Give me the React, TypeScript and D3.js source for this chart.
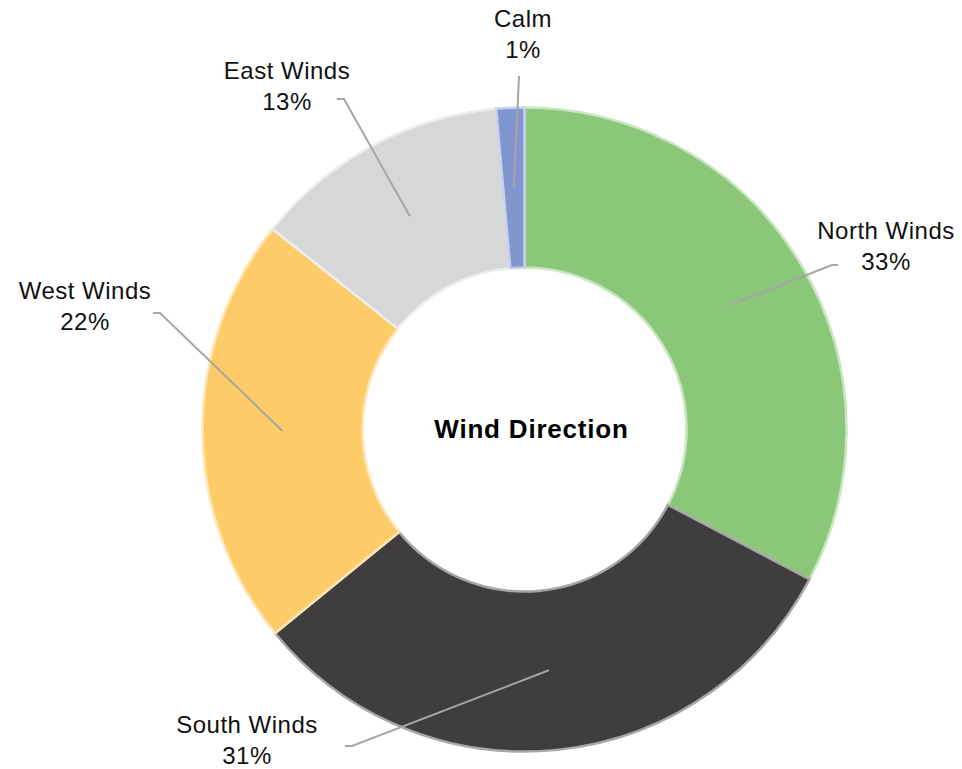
import React from "react";
import * as d3 from "d3";

const categories = ["North Winds", "South Winds", "West Winds", "East Winds", "Calm"];
const values = [32.7, 31.4, 21.6, 12.9, 1.4];
const colors = ["#8AC779", "#403D3F", "#FDCC69", "#D6D7D7", "#7F96CF"];
const strokeColors = ["#C9E6C0", "#A6A6A6", "#FEE5B4", "#EEEEEE", "#C6D0EC"];
const title = "Wind Direction";

// label layout (text anchor centers and leader-line elbow points)
const labelLayout = [
  { x: 886, y: 239, ex: 838, ey: 265, tail: -6 },
  { x: 247, y: 733, ex: 345, ey: 746, tail: 7 },
  { x: 85, y: 299, ex: 153, ey: 313, tail: 7 },
  { x: 287, y: 79, ex: 337, ey: 99, tail: 7 },
  { x: 523, y: 27, ex: 519, ey: 76, tail: 0 },
];

const W = 962;
const H = 769;
const cx = 524.5;
const cy = 429.5;
const outerR = 322;
const innerR = 162;

export default function App() {
  const pie = d3
    .pie<number>()
    .sort(null)
    .value((d) => d)
    .startAngle(0)
    .endAngle(2 * Math.PI);
  const arcs = pie(values);
  const arc = d3.arc<d3.PieArcDatum<number>>().innerRadius(innerR).outerRadius(outerR);
  const total = d3.sum(values);
  const font = "'Liberation Sans', Arial, sans-serif";

  return (
    <svg
      width={W}
      height={H}
      style={{ position: "absolute", left: 0, top: 0, background: "#fff" }}
    >
      <g transform={`translate(${cx},${cy})`}>
        {arcs.map((a, i) => (
          <path
            key={categories[i]}
            d={arc(a) || ""}
            fill={colors[i]}
            stroke={strokeColors[i]}
            strokeWidth={2.5}
            strokeLinejoin="miter"
          />
        ))}
      </g>
      {arcs.map((a, i) => {
        const [px, py] = arc.centroid(a);
        const L = labelLayout[i];
        const pct = Math.round((values[i] / total) * 100);
        return (
          <g key={"lbl" + categories[i]}>
            <polyline
              points={`${L.ex},${L.ey} ${L.ex + L.tail},${L.ey} ${cx + px},${cy + py}`}
              fill="none"
              stroke="#A6A6A6"
              strokeWidth={2}
            />
            <text
              x={L.x}
              y={L.y}
              textAnchor="middle"
              fontFamily={font}
              fontSize={24}
              letterSpacing={0.5}
              fill="#111"
            >
              {categories[i]}
            </text>
            <text
              x={L.x}
              y={L.y + 31}
              textAnchor="middle"
              fontFamily={font}
              fontSize={24}
              letterSpacing={0.5}
              fill="#111"
            >
              {pct + "%"}
            </text>
          </g>
        );
      })}
      <text
        x={cx + 7}
        y={438}
        textAnchor="middle"
        fontFamily={font}
        fontSize={26}
        fontWeight="bold"
        letterSpacing={0.8}
        fill="#000"
      >
        {title}
      </text>
    </svg>
  );
}
